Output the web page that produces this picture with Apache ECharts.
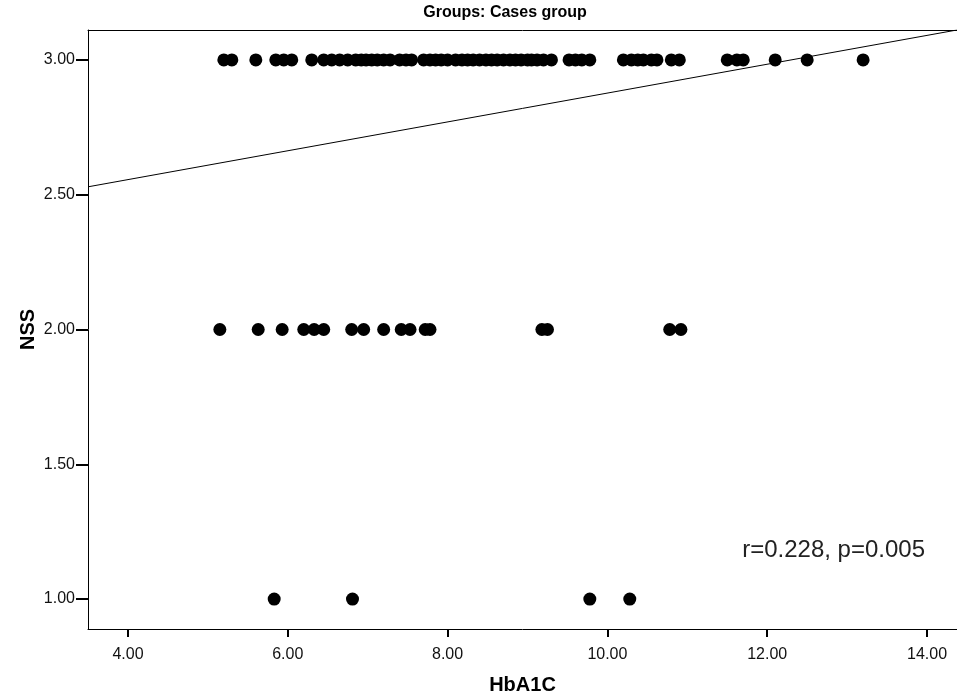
<!DOCTYPE html>
<html>
<head>
<meta charset="utf-8">
<title>NSS vs HbA1C</title>
<script src="https://cdn.jsdelivr.net/npm/echarts@6/dist/echarts.min.js"></script>
<style>
  html, body { margin: 0; padding: 0; background: #fff; }
  #chart { width: 957px; height: 695px; }
</style>
</head>
<body>
<div id="chart"></div>
<script>
// HbA1C values, grouped by NSS score
const hba1cNss3 = [5.2, 5.3, 5.6, 5.85, 5.95, 6.05, 6.3, 6.45, 6.55, 6.65, 6.75, 6.85, 6.92, 6.98,
  7.05, 7.12, 7.2, 7.28, 7.4, 7.48, 7.55, 7.7, 7.78, 7.85, 7.92, 8.0, 8.1, 8.18, 8.25, 8.32,
  8.4, 8.48, 8.55, 8.62, 8.7, 8.78, 8.85, 8.92, 9.0, 9.05, 9.12, 9.2, 9.3, 9.52, 9.6, 9.68,
  9.78, 10.2, 10.3, 10.38, 10.45, 10.55, 10.62, 10.8, 10.9, 11.5, 11.62, 11.7, 12.1, 12.5, 13.2]
const hba1cNss2 = [5.15, 5.63, 5.93, 6.2, 6.33, 6.45, 6.8, 6.95, 7.2, 7.42, 7.53, 7.72, 7.78,
  9.18, 9.25, 10.78, 10.92]
const hba1cNss1 = [5.83, 6.81, 9.78, 10.28]

const xTicks = [4, 6, 8, 10, 12, 14]
const yTicks = [1, 1.5, 2, 2.5, 3]

// linear fit line NSS = a + b * HbA1C
const fitIntercept = 2.342
const fitSlope = 0.0535
const xMin = 3.5
const xMax = 14.375
const yMin = 0.889
const yMax = 3.111

const points = []
hba1cNss3.forEach((x) => points.push([x, 3]))
hba1cNss2.forEach((x) => points.push([x, 2]))
hba1cNss1.forEach((x) => points.push([x, 1]))

const fitLine = [xMin, xMax].map((x) => [x, fitIntercept + fitSlope * x])

const font = '"Liberation Sans", Arial, sans-serif'
const chart = echarts.init(document.getElementById('chart'))

chart.setOption({
  animation: false,
  grid: { left: 88, right: 0, top: 30, bottom: 66, show: false, containLabel: false, outerBoundsMode: 'none' },
  xAxis: [
    {
      type: 'value',
      min: xMin,
      max: xMax,
      name: 'HbA1C',
      nameLocation: 'middle',
      nameGap: 46,
      nameTextStyle: { fontFamily: font, fontSize: 20, fontWeight: 'bold', color: '#000' },
      axisLine: { show: true, onZero: false, lineStyle: { color: '#000', width: 1 } },
      axisTick: { show: true, length: 8, customValues: xTicks, lineStyle: { color: '#000', width: 2 } },
      axisLabel: {
        customValues: xTicks,
        margin: 18,
        fontFamily: font,
        fontSize: 16,
        color: '#111',
        formatter: (v) => v.toFixed(2)
      },
      splitLine: { show: false }
    },
    {
      type: 'value',
      position: 'top',
      min: xMin,
      max: xMax,
      axisLine: { show: true, onZero: false, lineStyle: { color: '#000', width: 1 } },
      axisTick: { show: false },
      axisLabel: { show: false },
      splitLine: { show: false }
    }
  ],
  yAxis: {
    type: 'value',
    min: yMin,
    max: yMax,
    name: 'NSS',
    nameLocation: 'middle',
    nameGap: 50,
    nameMoveOverlap: false,
    nameTextStyle: { fontFamily: font, fontSize: 20, fontWeight: 'bold', color: '#000' },
    axisLine: { show: true, onZero: false, lineStyle: { color: '#000', width: 1 } },
    axisTick: { show: true, length: 12, customValues: yTicks, lineStyle: { color: '#000', width: 2 } },
    axisLabel: {
      customValues: yTicks,
      margin: 13,
      fontFamily: font,
      fontSize: 16,
      color: '#111',
      formatter: (v) => v.toFixed(2)
    },
    splitLine: { show: false }
  },
  series: [
    {
      type: 'line',
      data: fitLine,
      symbol: 'none',
      lineStyle: { color: '#000', width: 1 },
      silent: true,
      z: 1
    },
    {
      type: 'scatter',
      data: points,
      symbol: 'circle',
      symbolSize: 13,
      itemStyle: { color: '#000', opacity: 1 },
      z: 2
    }
  ],
  graphic: [
    {
      type: 'text',
      x: 505,
      y: 5,
      style: {
        text: 'Groups: Cases group',
        font: 'bold 16px "Liberation Sans", Arial, sans-serif',
        fill: '#000',
        align: 'center'
      }
    },
    {
      type: 'text',
      right: 32,
      top: 538,
      style: { text: 'r=0.228, p=0.005', font: '24px "Liberation Sans", Arial, sans-serif', fill: '#222' }
    }
  ]
})
</script>
</body>
</html>
